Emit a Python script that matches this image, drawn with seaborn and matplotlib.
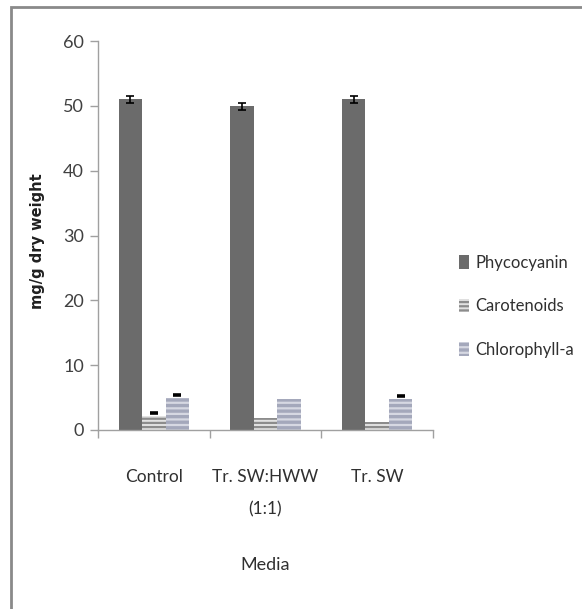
import matplotlib
matplotlib.use("Agg")
import matplotlib.pyplot as plt
import matplotlib.patches as mpatches
import seaborn as sns
import pandas as pd
import numpy as np

# ---- data ----
media = ["Control", "Tr. SW:HWW\n(1:1)", "Tr. SW"]
pigments = ["Phycocyanin", "Carotenoids", "Chlorophyll-a"]
phycocyanin = [51.0, 49.9, 51.0]
carotenoids = [2.2, 1.8, 1.3]
chlorophyll_a = [4.9, 4.8, 4.8]
phyco_err = [0.5, 0.5, 0.5]
carot_err = [0.35, 0.0, 0.0]
chl_err = [0.5, 0.0, 0.5]
y_ticks = [0, 10, 20, 30, 40, 50, 60]

values = {"Phycocyanin": phycocyanin, "Carotenoids": carotenoids, "Chlorophyll-a": chlorophyll_a}
errors = {"Phycocyanin": phyco_err, "Carotenoids": carot_err, "Chlorophyll-a": chl_err}
rows = []
for p in pigments:
    for m, v, e in zip(media, values[p], errors[p]):
        rows.append({"Media": m, "Pigment": p, "Value": v, "Err": e})
df = pd.DataFrame(rows)

sns.set_theme(style="white")
plt.rcParams["font.family"] = ["Lato", "DejaVu Sans"]
plt.rcParams["hatch.linewidth"] = 1.6

W, H = 582, 609
fig = plt.figure(figsize=(W / 100, H / 100), dpi=100)
ax = fig.add_axes([98 / W, 1 - 430 / H, 335 / W, 389 / H])

styles = {
    "Phycocyanin": dict(face="#6b6b6b", hatch=None, hc="#6b6b6b"),
    "Carotenoids": dict(face="#e2e2e2", hatch="----", hc="#8c8c8c"),
    "Chlorophyll-a": dict(face="#a4a8bb", hatch="---", hc="#d6d8e2"),
}
palette = {p: styles[p]["face"] for p in pigments}

sns.barplot(data=df, x="Media", y="Value", hue="Pigment", order=media,
            hue_order=pigments, palette=palette, width=0.63, gap=0,
            errorbar=None, saturation=1, ax=ax, legend=False)

# style bars & error bars
for container, p in zip(ax.containers, pigments):
    st = styles[p]
    for bar, v, e in zip(container, values[p], errors[p]):
        bar.set_linewidth(0)
        if st["hatch"]:
            bar.set_hatch(st["hatch"])
            bar.set_edgecolor(st["hc"])
        xc = bar.get_x() + bar.get_width() / 2
        if e > 0:
            if p == "Phycocyanin":
                ax.errorbar(xc, v, yerr=e, fmt="none", ecolor="black",
                            elinewidth=1.2, capsize=3.2, capthick=1.2, zorder=5)
            else:
                _, caps, _ = ax.errorbar(xc, v, yerr=[[0], [e]], fmt="none",
                                         ecolor="black", elinewidth=0,
                                         capsize=3.2, capthick=2.6, zorder=5)
                caps[0].set_visible(False)

ax.set_ylim(0, 60)
ax.set_xlim(-0.5, 2.5)
ax.set_yticks(y_ticks)
ax.set_yticklabels([str(t) for t in y_ticks], fontsize=13, color="#404040")
ax.set_xticks(range(len(media)))
ax.set_xticklabels(media, fontsize=12.5, color="#303030", linespacing=2.25)
ax.set_xticks([-0.5, 0.5, 1.5, 2.5], minor=True)
ax.tick_params(axis="x", which="major", length=0, pad=28)
ax.tick_params(axis="x", which="minor", length=6, width=1, color="#a0a0a0", direction="out", bottom=True)
ax.tick_params(axis="y", length=6, width=1, color="#a0a0a0", direction="out", left=True, pad=4)

for s in ["top", "right"]:
    ax.spines[s].set_visible(False)
for s in ["left", "bottom"]:
    ax.spines[s].set_color("#a0a0a0")
    ax.spines[s].set_linewidth(1)

ax.set_ylabel("mg/g dry weight", fontsize=10.5, fontweight="bold",
              family=["DejaVu Sans"], color="#202020")
ax.yaxis.set_label_coords((45 - 98) / 335, (430 - 241) / 389)
ax.set_xlabel("Media", fontsize=13, color="#303030")
ax.xaxis.set_label_coords(0.5, -(565 - 430) / 389)
ax.xaxis.label.set_va("center")

# legend
handles = []
for p in pigments:
    st = styles[p]
    handles.append(mpatches.Patch(facecolor=st["face"], edgecolor=st["hc"],
                                  hatch=st["hatch"], linewidth=0, label=p))
leg = fig.legend(handles=handles, loc="upper left",
                 bbox_to_anchor=(452 / W, 1 - 248 / H), frameon=False,
                 fontsize=12, handlelength=0.6, handleheight=0.85,
                 handletextpad=0.4, labelspacing=1.65, borderaxespad=0)
for t in leg.get_texts():
    t.set_color("#303030")

# outer border
fig.add_artist(mpatches.Rectangle((11 / W, -0.05), 1.1, 1 - 7 / H + 0.05,
                                  transform=fig.transFigure, fill=False,
                                  edgecolor="#8a8a8a", linewidth=2, clip_on=False))

fig.savefig("out.png", dpi=100)
